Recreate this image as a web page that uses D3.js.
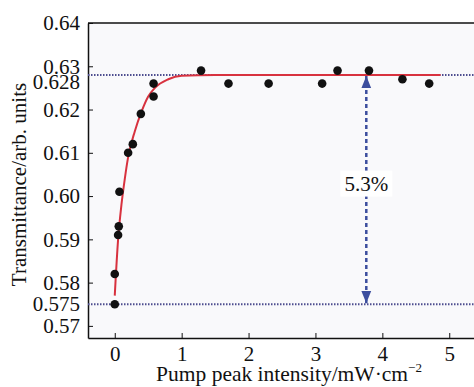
<!DOCTYPE html>
<html>
<head>
<meta charset="utf-8">
<style>
body { margin: 0; background: #fff; }
</style>
</head>
<body>
<div id="container"></div>
<script src="https://d3js.org/d3.v7.min.js"></script>
<script>
// measured points (pump intensity, transmittance)
const pumpX = [0, 0, 0.05, 0.06, 0.07, 0.2, 0.27, 0.39, 0.58, 0.58, 1.29, 1.7, 2.3, 3.1, 3.33, 3.8, 4.3, 4.7];
const transY = [0.575, 0.582, 0.591, 0.593, 0.601, 0.610, 0.612, 0.619, 0.623, 0.626, 0.629, 0.626, 0.626, 0.626, 0.629, 0.629, 0.627, 0.626];

// fitted curve
const fitX = [0, 0.05, 0.1, 0.15, 0.2, 0.3, 0.4, 0.5, 0.6, 0.8, 1.0, 1.5, 4.87];
const fitY = [0.577, 0.590, 0.598, 0.604, 0.609, 0.615, 0.6195, 0.623, 0.625, 0.627, 0.6278, 0.628, 0.628];

const xTicks = [0, 1, 2, 3, 4, 5];
const yTicks = [0.57, 0.58, 0.59, 0.60, 0.61, 0.62, 0.63, 0.64];
const yTickLabels = ["0.57", "0.58", "0.59", "0.60", "0.61", "0.62", "0.63", "0.64"];
const levels = [0.628, 0.575];
const levelLabels = ["0.628", "0.575"];
const arrowX = 3.76;
const arrowLabel = "5.3%";

const width = 474;
const height = 387;
const marginLeft = 88;
const marginTop = 23;
const marginBottom = 49;
const serif = "Liberation Serif";

const x = d3.scaleLinear()
    .domain([-0.4, 5.37])
    .range([marginLeft, width]);

const y = d3.scaleLinear()
    .domain([0.5672, 0.64])
    .range([height - marginBottom, marginTop]);

const svg = d3.create("svg")
    .attr("width", width)
    .attr("height", height)
    .attr("font-family", serif);

// plot background
svg.append("rect")
    .attr("x", marginLeft)
    .attr("y", marginTop)
    .attr("width", width - marginLeft)
    .attr("height", height - marginBottom - marginTop)
    .attr("fill", "#f9f9fb");

// x-axis, ticks point inward
const xAxis = svg.append("g")
    .attr("transform", `translate(0,${height - marginBottom})`)
    .call(d3.axisBottom(x).tickValues(xTicks).tickSize(-5).tickSizeOuter(0).tickPadding(8).tickFormat(d3.format("d")));
xAxis.attr("font-family", serif).attr("font-size", 21);
xAxis.select(".domain").attr("stroke", "#111").attr("stroke-width", 1.5);
xAxis.selectAll(".tick line").attr("stroke", "#111");
xAxis.selectAll(".tick text").attr("fill", "#111");

// y-axis
const yAxis = svg.append("g")
    .attr("transform", `translate(${marginLeft},0)`)
    .call(d3.axisLeft(y).tickValues(yTicks).tickSize(-5).tickSizeOuter(0).tickPadding(8)
        .tickFormat((d, i) => yTickLabels[i]));
yAxis.attr("font-family", serif).attr("font-size", 21);
yAxis.select(".domain").attr("stroke", "#111").attr("stroke-width", 1.5);
yAxis.selectAll(".tick line").attr("stroke", "#111");
yAxis.selectAll(".tick text").attr("fill", "#111");

// top frame line
svg.append("line")
    .attr("x1", marginLeft).attr("x2", width)
    .attr("y1", marginTop).attr("y2", marginTop)
    .attr("stroke", "#111").attr("stroke-width", 1.5);

// extra level labels
svg.selectAll(".lvl")
    .data(levels)
    .join("text")
    .attr("class", "lvl")
    .attr("x", marginLeft - 8)
    .attr("y", (d, i) => y(d) + (i === 0 ? 7 : 0))
    .attr("dy", "0.32em")
    .attr("text-anchor", "end")
    .attr("font-size", 21)
    .attr("fill", "#111")
    .text((d, i) => levelLabels[i]);

// dotted level lines
svg.selectAll(".lvl-line")
    .data(levels)
    .join("line")
    .attr("class", "lvl-line")
    .attr("x1", marginLeft).attr("x2", width)
    .attr("y1", d => y(d)).attr("y2", d => y(d))
    .attr("stroke", "#4d4d8f")
    .attr("stroke-width", 2)
    .attr("stroke-dasharray", "1.5,1.5");

// fit curve
const fit = fitX.map((d, i) => [d, fitY[i]]);
svg.append("path")
    .attr("fill", "none")
    .attr("stroke", "#d8323f")
    .attr("stroke-width", 2)
    .attr("d", d3.line().x(d => x(d[0])).y(d => y(d[1])).curve(d3.curveMonotoneX)(fit));

// data points
svg.selectAll(".pt")
    .data(pumpX.map((d, i) => [d, transY[i]]))
    .join("circle")
    .attr("class", "pt")
    .attr("cx", d => x(d[0]))
    .attr("cy", d => y(d[1]))
    .attr("r", 4.3)
    .attr("fill", "#111");

// double arrow
const defs = svg.append("defs");
defs.append("marker")
    .attr("id", "head")
    .attr("viewBox", "0 0 10 10")
    .attr("refX", 10).attr("refY", 5)
    .attr("markerWidth", 5).attr("markerHeight", 5)
    .attr("orient", "auto-start-reverse")
    .append("path")
    .attr("d", "M0,1 L10,5 L0,9 z")
    .attr("fill", "#3c4e9e");

svg.append("line")
    .attr("x1", x(arrowX)).attr("x2", x(arrowX))
    .attr("y1", y(levels[0]) + 1).attr("y2", y(levels[1]) - 1)
    .attr("stroke", "#3c4e9e")
    .attr("stroke-width", 2.5)
    .attr("stroke-dasharray", "4,3")
    .attr("marker-start", "url(#head)")
    .attr("marker-end", "url(#head)");

const midY = (y(levels[0]) + y(levels[1])) / 2 - 6;
svg.append("rect")
    .attr("x", x(arrowX) - 26).attr("y", midY - 13)
    .attr("width", 52).attr("height", 26)
    .attr("fill", "#fff");
svg.append("text")
    .attr("x", x(arrowX))
    .attr("y", midY)
    .attr("dy", "0.35em")
    .attr("text-anchor", "middle")
    .attr("font-size", 21)
    .attr("fill", "#111")
    .text(arrowLabel);

// axis titles
svg.append("text")
    .attr("transform", `translate(26,${(marginTop + height - marginBottom) / 2 + 4}) rotate(-90)`)
    .attr("text-anchor", "middle")
    .attr("font-size", 21)
    .attr("fill", "#111")
    .text("Transmittance/arb. units");

const xTitle = svg.append("text")
    .attr("x", 289)
    .attr("y", 381)
    .attr("text-anchor", "middle")
    .attr("font-size", 21.5)
    .attr("fill", "#111");
xTitle.append("tspan").text("Pump peak intensity/mW\u00B7cm");
xTitle.append("tspan").attr("dy", -9).attr("font-size", 13).text("\u22122");

document.getElementById("container").append(svg.node());
</script>
</body>
</html>
